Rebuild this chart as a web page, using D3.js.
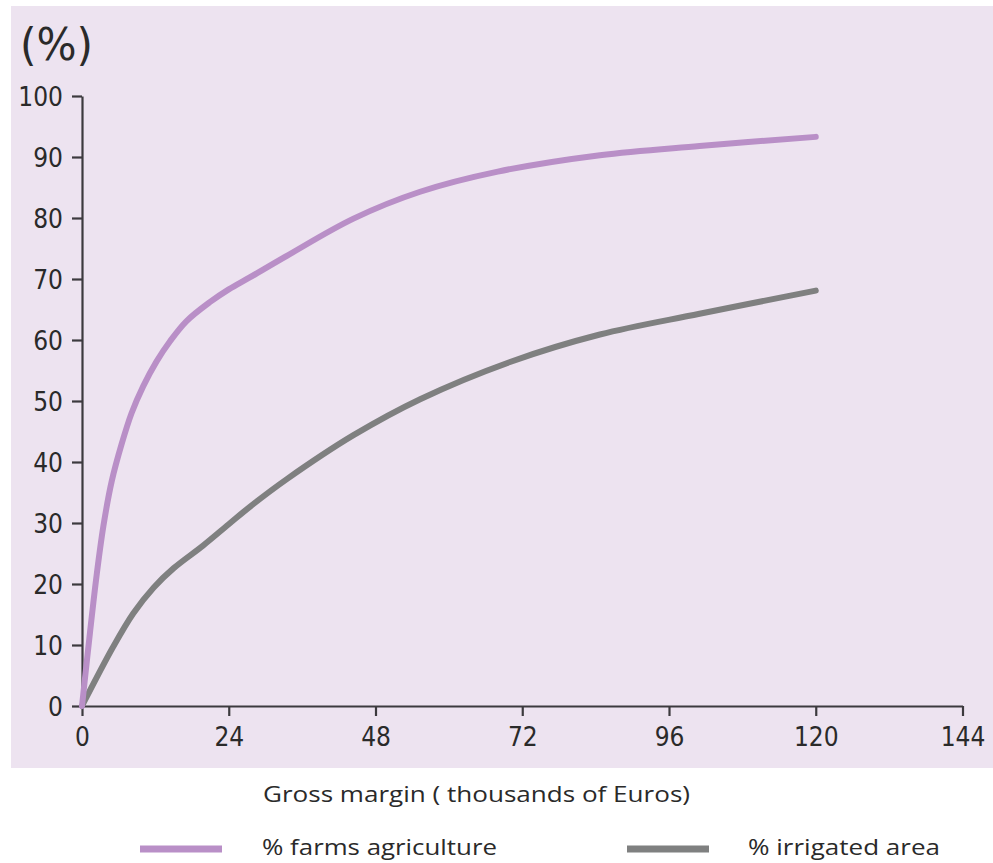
<!DOCTYPE html>
<html>
<head>
<meta charset="utf-8">
<script src="https://cdn.jsdelivr.net/npm/d3@7/dist/d3.min.js"></script>
<style>
  html, body { margin: 0; padding: 0; background: #ffffff; }
  svg { display: block; }
</style>
</head>
<body>
<svg id="chart" width="993" height="863"></svg>
<script>
// ---- data ----
const xTicks = [0, 24, 48, 72, 96, 120, 144];
const yTicks = [0, 10, 20, 30, 40, 50, 60, 70, 80, 90, 100];

const farmsX = [0, 1.3, 2.4, 3.5, 4.85, 6.5, 8.1, 10, 12.2, 14.4, 17.1, 20.9, 24, 27.5, 33.5, 44.4, 55.3, 68, 84.7, 101, 120];
const farmsY = [0, 12, 21.5, 29.5, 36.8, 43.0, 48, 52.4, 56.5, 59.8, 63.1, 66.2, 68.3, 70.3, 73.8, 79.9, 84.3, 87.6, 90.3, 91.8, 93.3];

const irrigX = [0, 5.1, 8.4, 11.7, 15, 19.8, 24, 27.5, 33.5, 44.4, 55.3, 70, 84.7, 101, 120];
const irrigY = [0, 9.7, 15.2, 19.4, 22.6, 26.3, 29.8, 32.7, 37.2, 44.4, 50.3, 56.4, 60.9, 64.3, 68.1];

const seriesNames = ["% farms agriculture", "% irrigated area"];
const seriesColors = ["#b98fc7", "#7f8080"];
const xTitle = "Gross margin ( thousands of Euros)";
const yTitle = "(%)";

// ---- layout ----
const svg = d3.select("#chart");
const textColor = "#2a2a2a";
const axisColor = "#3c3a3e";

svg.append("rect")
  .attr("x", 11).attr("y", 6)
  .attr("width", 982).attr("height", 762)
  .attr("fill", "#ede3f0");

const x = d3.scaleLinear().domain([0, 144]).range([82, 962.5]);
const y = d3.scaleLinear().domain([0, 100]).range([706, 96]);

// Y axis
const yAxis = svg.append("g")
  .attr("transform", `translate(${x(0)},0)`)
  .call(d3.axisLeft(y).tickValues(yTicks).tickSize(10).tickSizeOuter(0).tickPadding(9));
// X axis
const xAxis = svg.append("g")
  .attr("transform", `translate(0,${y(0)})`)
  .call(d3.axisBottom(x).tickValues(xTicks).tickSize(10).tickSizeOuter(0).tickPadding(12));

[yAxis, xAxis].forEach(g => {
  g.select(".domain").attr("stroke", axisColor).attr("stroke-width", 2.2);
  g.selectAll(".tick line").attr("stroke", axisColor).attr("stroke-width", 2.2);
  g.selectAll(".tick text")
    .attr("fill", textColor)
    .style("font-family", "'DejaVu Sans Condensed', 'DejaVu Sans', sans-serif")
    .style("font-size", "26px");
});
yAxis.selectAll(".tick text").attr("dy", "0.36em");

// lines
const line = d3.line()
  .x(d => x(d[0]))
  .y(d => y(d[1]))
  .curve(d3.curveCatmullRom.alpha(0.5));

const farms = farmsX.map((v, i) => [v, farmsY[i]]);
const irrig = irrigX.map((v, i) => [v, irrigY[i]]);

svg.append("path")
  .datum(irrig)
  .attr("d", line)
  .attr("fill", "none")
  .attr("stroke", seriesColors[1])
  .attr("stroke-width", 6)
  .attr("stroke-linecap", "round")
  .attr("stroke-linejoin", "round");

svg.append("path")
  .datum(farms)
  .attr("d", line)
  .attr("fill", "none")
  .attr("stroke", seriesColors[0])
  .attr("stroke-width", 6)
  .attr("stroke-linecap", "round")
  .attr("stroke-linejoin", "round");

// y title
svg.append("text")
  .attr("x", 20).attr("y", 60)
  .attr("fill", textColor)
  .style("font-family", "'DejaVu Sans Condensed', 'DejaVu Sans', sans-serif")
  .style("font-size", "44px")
  .attr("textLength", 73)
  .attr("lengthAdjust", "spacingAndGlyphs")
  .text(yTitle);

// x title
svg.append("text")
  .attr("x", 263).attr("y", 802)
  .attr("fill", textColor)
  .style("font-family", "'Open Sans', sans-serif")
  .style("font-size", "22px")
  .attr("textLength", 427)
  .attr("lengthAdjust", "spacingAndGlyphs")
  .text(xTitle);

// legend
const legend = [
  { x1: 140, x2: 222, tx: 262, tw: 235 },
  { x1: 627, x2: 709, tx: 748, tw: 192 }
];
legend.forEach((L, i) => {
  svg.append("line")
    .attr("x1", L.x1).attr("x2", L.x2)
    .attr("y1", 849).attr("y2", 849)
    .attr("stroke", seriesColors[i])
    .attr("stroke-width", 7);
  svg.append("text")
    .attr("x", L.tx).attr("y", 855)
    .attr("fill", textColor)
    .style("font-family", "'Open Sans', sans-serif")
    .style("font-size", "22px")
    .attr("textLength", L.tw)
    .attr("lengthAdjust", "spacingAndGlyphs")
    .text(seriesNames[i]);
});
</script>
</body>
</html>
